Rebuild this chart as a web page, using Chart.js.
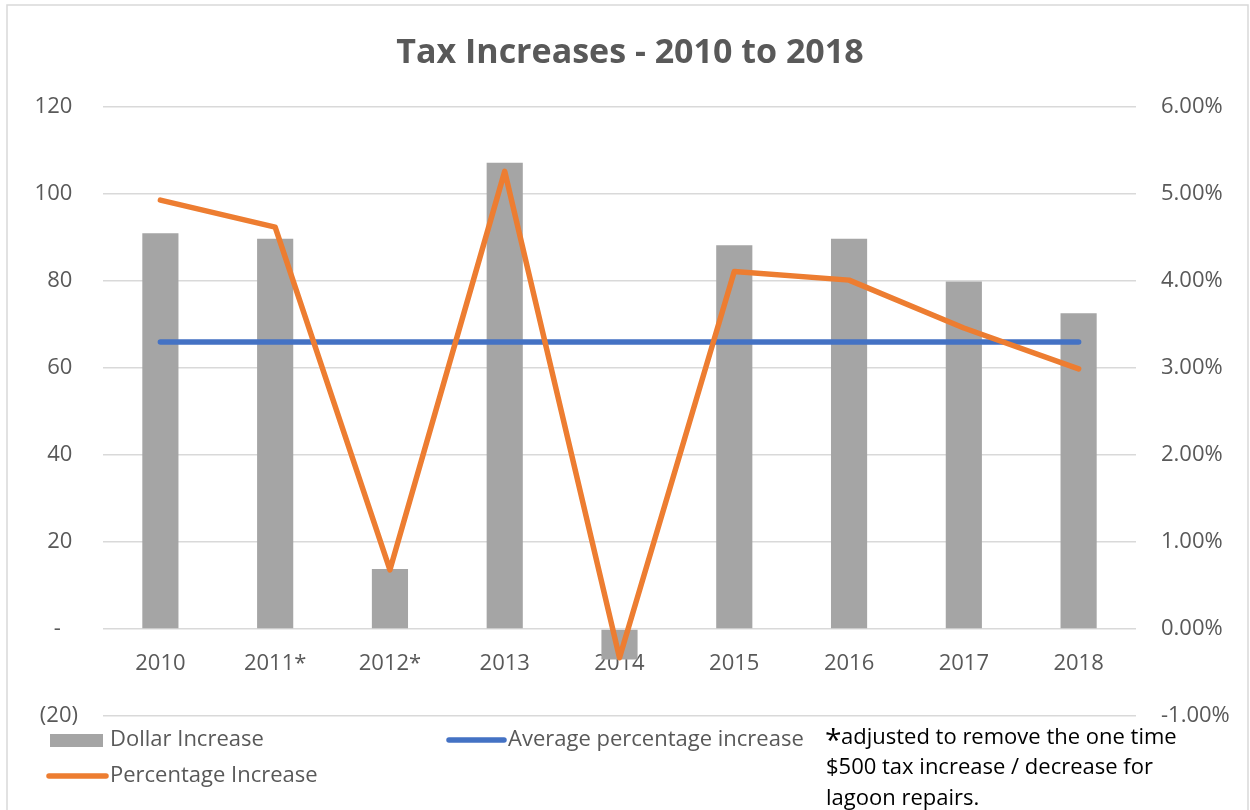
<!DOCTYPE html>
<html>
<head>
<meta charset="utf-8">
<title>Tax Increases - 2010 to 2018</title>
<script src="https://cdn.jsdelivr.net/npm/chart.js@4.4.1/dist/chart.umd.min.js"></script>
<style>
  html, body { margin: 0; padding: 0; background: #fff; }
  #wrap { width: 1250px; height: 810px; }
</style>
</head>
<body>
<div id="wrap"><canvas id="taxChart" width="1250" height="810"></canvas></div>
<script>
// --- DATA ---
const years = ['2010', '2011*', '2012*', '2013', '2014', '2015', '2016', '2017', '2018'];
const dollarIncrease = [91.0, 89.7, 13.8, 107.2, -7.0, 88.2, 89.7, 79.9, 72.6];
const percentIncrease = [4.93, 4.62, 0.68, 5.26, -0.33, 4.11, 4.01, 3.46, 2.99];
const averagePercent = [3.30, 3.30, 3.30, 3.30, 3.30, 3.30, 3.30, 3.30, 3.30];

const dollarTicks = [-20, 0, 20, 40, 60, 80, 100, 120];
const dollarTickLabels = ['(20)', '-   ', '20 ', '40 ', '60 ', '80 ', '100 ', '120 '];
const percentTicks = [-1, 0, 1, 2, 3, 4, 5, 6];

const noteLines = [
  'adjusted to remove the one time',
  '$500 tax increase / decrease for',
  'lagoon repairs.'
];

const FONT = '"Open Sans", "Liberation Sans", sans-serif';
const TEXT_GREY = '#595959';
const GRID_GREY = '#d9d9d9';

// frame, title, legend and footnote drawn straight onto the canvas
const decorations = {
  id: 'decorations',
  beforeDraw(chart) {
    const ctx = chart.ctx;
    ctx.save();
    ctx.fillStyle = '#fff';
    ctx.fillRect(0, 0, chart.width, chart.height);
    ctx.strokeStyle = GRID_GREY;
    ctx.lineWidth = 1.5;
    ctx.strokeRect(7, 5, 1241, 830);
    ctx.restore();
  },
  afterDraw(chart) {
    const ctx = chart.ctx;
    const ds = chart.data.datasets;
    ctx.save();

    // title
    ctx.fillStyle = TEXT_GREY;
    ctx.font = 'bold 34px ' + FONT;
    ctx.textAlign = 'center';
    ctx.textBaseline = 'alphabetic';
    ctx.fillText('Tax Increases - 2010 to 2018', 630, 63);

    // legend
    ctx.font = '22px ' + FONT;
    ctx.textAlign = 'left';
    ctx.textBaseline = 'middle';

    ctx.fillStyle = ds[2].backgroundColor;
    ctx.fillRect(50, 734, 53, 13);
    ctx.fillStyle = TEXT_GREY;
    ctx.fillText(ds[2].label, 110, 740);

    ctx.lineCap = 'round';
    ctx.lineWidth = 5.5;
    ctx.strokeStyle = ds[1].borderColor;
    ctx.beginPath();
    ctx.moveTo(449, 740);
    ctx.lineTo(504, 740);
    ctx.stroke();
    ctx.fillText(ds[1].label, 508, 740);

    ctx.strokeStyle = ds[0].borderColor;
    ctx.beginPath();
    ctx.moveTo(49, 776);
    ctx.lineTo(106, 776);
    ctx.stroke();
    ctx.fillText(ds[0].label, 110, 776);

    // footnote
    ctx.fillStyle = '#000';
    ctx.textBaseline = 'alphabetic';
    ctx.font = '30px ' + FONT;
    ctx.fillText('*', 825, 750);
    ctx.font = '22px ' + FONT;
    ctx.fillText(noteLines[0], 841, 744);
    ctx.fillText(noteLines[1], 826, 774);
    ctx.fillText(noteLines[2], 826, 805);

    ctx.restore();
  }
};

new Chart(document.getElementById('taxChart'), {
  data: {
    labels: years,
    datasets: [
      {
        type: 'line',
        label: 'Percentage Increase',
        data: percentIncrease,
        yAxisID: 'y1',
        borderColor: '#ed7d31',
        borderWidth: 5.5,
        borderCapStyle: 'round',
        borderJoinStyle: 'round',
        pointRadius: 0,
        tension: 0,
        order: 0
      },
      {
        type: 'line',
        label: 'Average percentage increase',
        data: averagePercent,
        yAxisID: 'y1',
        borderColor: '#4472c4',
        borderWidth: 5.5,
        borderCapStyle: 'round',
        pointRadius: 0,
        tension: 0,
        order: 1
      },
      {
        type: 'bar',
        label: 'Dollar Increase',
        data: dollarIncrease,
        yAxisID: 'y',
        backgroundColor: '#a5a5a5',
        categoryPercentage: 1,
        barPercentage: 0.315,
        order: 2
      }
    ]
  },
  options: {
    responsive: false,
    animation: false,
    layout: { padding: { top: 107, bottom: 94, left: 0, right: 0 } },
    plugins: {
      legend: { display: false },
      title: { display: false },
      tooltip: { enabled: false }
    },
    scales: {
      x: {
        position: { y: 0 },
        grid: { display: false, drawTicks: false },
        border: { display: false },
        ticks: {
          padding: 22,
          color: TEXT_GREY,
          font: { family: FONT, size: 22 }
        }
      },
      y: {
        position: 'left',
        min: -20,
        max: 120,
        afterFit(scale) { scale.width = 103; },
        afterBuildTicks(scale) { scale.ticks = dollarTicks.map(v => ({ value: v })); },
        grid: { color: GRID_GREY, lineWidth: 1.5, drawTicks: false },
        border: { display: false },
        ticks: {
          padding: 25,
          color: TEXT_GREY,
          font: { family: FONT, size: 22 },
          callback: v => dollarTickLabels[dollarTicks.indexOf(v)]
        }
      },
      y1: {
        position: 'right',
        min: -1,
        max: 6,
        afterFit(scale) { scale.width = 114; },
        afterBuildTicks(scale) { scale.ticks = percentTicks.map(v => ({ value: v })); },
        grid: { display: false, drawTicks: false },
        border: { display: false },
        ticks: {
          padding: 25,
          color: TEXT_GREY,
          font: { family: FONT, size: 22 },
          callback: v => v.toFixed(2) + '%'
        }
      }
    }
  },
  plugins: [decorations]
});
</script>
</body>
</html>
